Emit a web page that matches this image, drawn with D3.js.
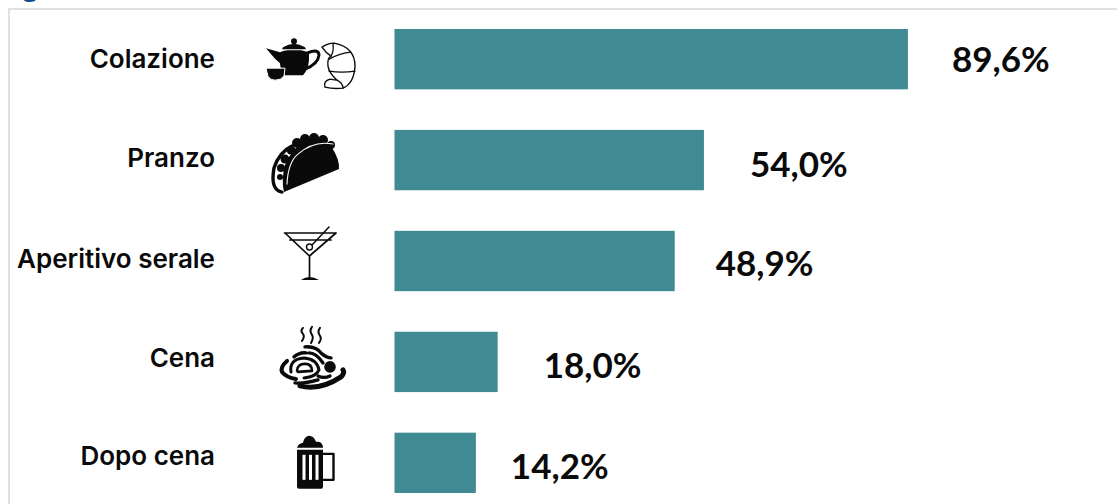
<!DOCTYPE html>
<html><head><meta charset="utf-8">
<script src="https://cdn.jsdelivr.net/npm/d3@7"></script>
<style>html,body{margin:0;padding:0;background:#fff;overflow:hidden}svg{display:block}</style>
</head><body><div id="chart"></div>
<script>
const categories = ["Colazione","Pranzo","Aperitivo serale","Cena","Dopo cena"];
const values = [89.6,54.0,48.9,18.0,14.2];
const valueLabels = ["89,6%","54,0%","48,9%","18,0%","14,2%"];
const clippedTitle = "g";

// Layout (hand placement of the labels, as in the source slide)
const W=1117,H=504;
const labelDX=[44,46,41,46,35], labelDY=[13,17,15,16,16], catDY=[9,7,7,5,2];

const svg=d3.select("#chart").append("svg").attr("width",W).attr("height",H);
svg.append("text").attr("x",22).attr("y",-3).attr("font-family","Lato").attr("font-weight",700)
  .attr("font-size",30).attr("fill","#0b4f8f").text(clippedTitle);
svg.append("path").attr("d",`M9,${H}V9H${W}`).attr("fill","none").attr("stroke","#e1e1e1").attr("stroke-width",2);

const x=d3.scaleLinear().domain([0,100]).range([394.5,394.5+573]);
const y=d3.scaleBand().domain(categories).range([29,493]).paddingInner(0.402).paddingOuter(0);

const rows=svg.selectAll("g.row").data(categories).join("g").attr("class","row");
rows.append("rect").attr("x",x(0)).attr("y",d=>y(d)).attr("height",y.bandwidth())
  .attr("width",(d,i)=>x(values[i])-x(0)).attr("fill","#3f8a93");
rows.append("text").attr("x",215).attr("y",(d,i)=>y(d)+y.bandwidth()/2+catDY[i]).attr("text-anchor","end")
  .attr("font-family","Inter").attr("font-weight",600).attr("font-size",26).attr("fill","#0a0a0a").text(d=>d);
rows.append("text").attr("x",(d,i)=>x(values[i])+labelDX[i]).attr("y",(d,i)=>y(d)+y.bandwidth()/2+labelDY[i])
  .attr("font-family","Lato").attr("font-weight",700).attr("font-size",35).attr("fill","#0a0a0a").text((d,i)=>valueLabels[i]);

// Pictograms, in coordinates relative to each row's centre line
const ink="#0a0a0a";
const icon=rows.append("g").attr("transform",d=>`translate(0,${y(d)+y.bandwidth()/2})`);
function fill(g,d,c=ink){g.append("path").attr("d",d).attr("fill",c);}
function line(g,d,w=1.5,c=ink,f="none"){g.append("path").attr("d",d).attr("fill",f).attr("stroke",c).attr("stroke-width",w).attr("stroke-linecap","round").attr("stroke-linejoin","round");}
function dot(g,cx,cy,r,c=ink){g.append("circle").attr("cx",cx).attr("cy",cy).attr("r",r).attr("fill",c);}

// Teapot, cup and croissant
{const g=icon.filter((d,i)=>i===0);
 dot(g,294,-18,3);
 fill(g,"M283,-12Q294,-19 305,-12L306,-10L282,-10Z");
 fill(g,"M266,-11L280,-7Q284,-9 288,-9L301,-9L309,-7L309,1Q308,11 303,16L285,16Q280,10 280,4Q275,0 272,-4Z");
 line(g,"M307,-6Q319,-11 319,-4Q318,5 305,10",3);
 g.append("path").attr("d","M266,9L285,9L284,17Q281,21 275,21Q270,21 268,17Z").attr("fill",ink).attr("stroke","#fff").attr("stroke-width",1);
 line(g,"M322,-12Q328,-16 334,-16Q355,-12 355,7Q354,24 343,29Q333,30 325,28Q323,22 330,20Q336,21 337,21Q329,14 328,7Q327,-1 331,-3Q326,-6 322,-12Z",1.4,ink,"#fff");
 line(g,"M333,-15Q334,-8 331,-3M351,-7Q340,-6 329,0M355,12Q342,14 329,12M337,21Q343,24 343,29",1.3);
}
// Taco
{const g=icon.filter((d,i)=>i===1);
 [[291,-10,4.5],[297,-17,5],[305,-21,5],[314,-22,5],[323,-20,5],[331,-15,4],[285,-1,4.5],[281,8,4],[280,17,3]].forEach(c=>dot(g,...c));
 fill(g,"M284,32L339,9Q340,0 331,-14Q320,-24 306,-20Q292,-12 285,5Q281,20 284,32Z");
 line(g,"M282,32Q270,30 274,8Q279,-8 292,-14",3.4);
 line(g,"M287,24Q288,2 298,-6Q314,-20 333,-16",1.1,"#fff");
}
// Martini
{const g=icon.filter((d,i)=>i===2);
 line(g,"M284.5,-28H336M290,-21H331M285,-28L309.5,-5L336,-28M309.5,-5V16",1.7);
 fill(g,"M301,19Q309,13 319,19Z");
 g.append("circle").attr("cx",309.5).attr("cy",-14).attr("r",3).attr("fill","#fff").attr("stroke",ink).attr("stroke-width",1.4);
 line(g,"M312,-16L329,-34",1.5);
}
// Pasta
{const g=icon.filter((d,i)=>i===3);
 line(g,"M303,-34Q300,-31 303,-28Q305,-25 302,-21M312,-35Q309,-31 312,-27Q314,-24 311,-19M320,-34Q317,-30 320,-26Q322,-23 319,-19",2);
 line(g,"M287,-1Q280,5 282,10Q287,16 296,17",4);
 line(g,"M300,24Q320,29 341,15Q345,11 343,8",5);
 line(g,"M291,10Q289,-3 304,-4Q317,-3 319,8Q316,15 304,16",3);
 line(g,"M297,9Q297,2 305,2Q312,2 312,9L298,10",2.6);
 line(g,"M294,-5Q300,-10 306,-9M305,-15Q316,-16 322,-8Q327,-4 331,-4M309,-9Q316,-9 323,1M318,14Q324,17 330,14M295,21Q304,22 318,18",3.4);
 dot(g,330,5,5.8);
}
// Beer mug
{const g=icon.filter((d,i)=>i===4);
 fill(g,"M297,-15Q298,-19 303,-20Q304,-26 309,-27Q314,-27 316,-21Q322,-22 323,-16L323,-15Z");
 fill(g,"M297,-13H323V24Q323,26 321,26H299Q297,26 297,24Z");
 g.selectAll("rect.slot").data([302.5,309,315.5]).join("rect").attr("x",v=>v).attr("y",-8).attr("width",3).attr("height",25).attr("fill","#fff");
 line(g,"M323,-9H333.5V17H323",2.4);
}
</script></body></html>
